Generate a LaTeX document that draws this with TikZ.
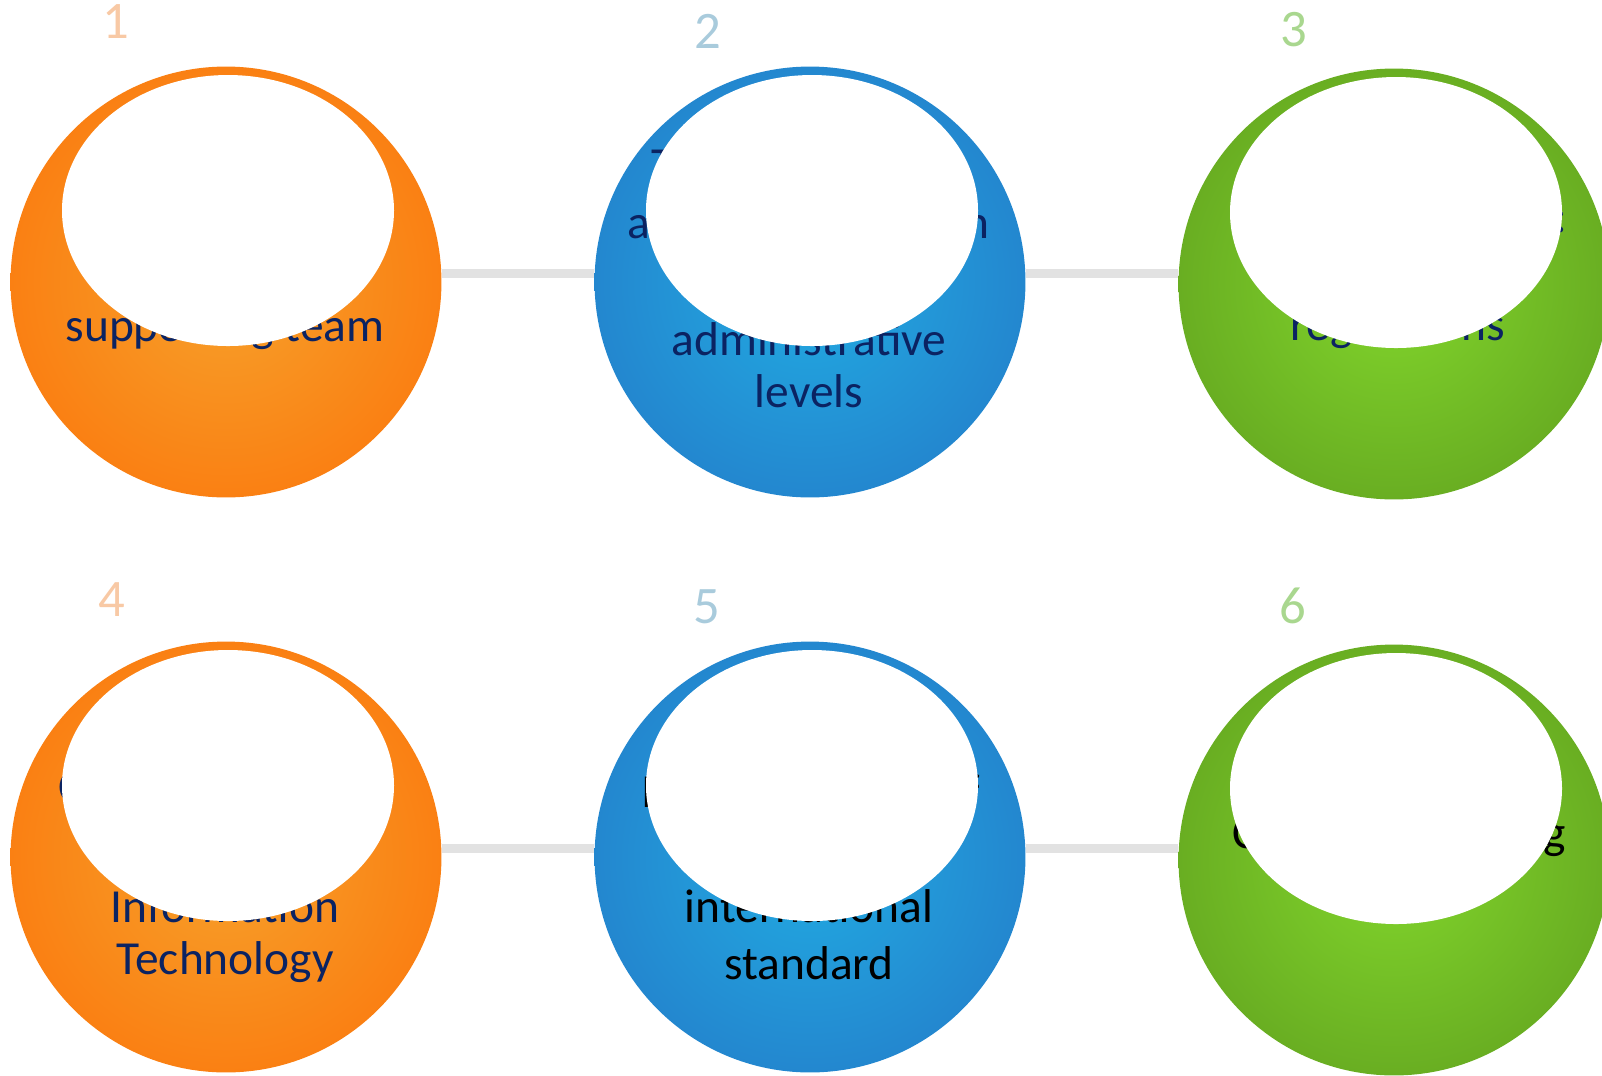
\documentclass[tikz,border=0pt]{standalone}
\usepackage{fontspec}
\setmainfont{Carlito}
\usetikzlibrary{backgrounds}
\definecolor{orangeIn}{HTML}{F7A12B}
\definecolor{orangeOut}{HTML}{FA8013}
\definecolor{blueIn}{HTML}{22ABE2}
\definecolor{blueOut}{HTML}{2387CF}
\definecolor{greenIn}{HTML}{82D62C}
\definecolor{greenOut}{HTML}{69AE22}
\definecolor{navy}{HTML}{0B2362}
\definecolor{linkgray}{HTML}{E2E2E2}
\definecolor{numOrange}{HTML}{F8C9A5}
\definecolor{numBlue}{HTML}{A9CBDC}
\definecolor{numGreen}{HTML}{A9D78F}

\begin{document}
\begin{tikzpicture}[x=0.02cm,y=-0.02cm,
	ball/.style={circle,minimum size=8.62cm,inner sep=0pt},
	txt/.style={font=\fontsize{27}{29.6}\selectfont,text=navy,align=center,inner sep=0pt},
	num/.style={font=\fontsize{30}{36}\selectfont,inner sep=0pt},
	link/.style={draw=linkgray,line width=0.18cm}]
	
			\useasboundingbox (0,0) rectangle (1602,1075);
			
			\node [ball,inner color=orangeIn,outer color=orangeOut] (s1) at (226,282) {};
			\node [txt,anchor=base] (t1) at (225,341) {supporting team};
			\fill [white] ([xshift=0.04cm,yshift=1.43cm]s1.center) ellipse (166 and 135.5);
			\node [num,text=numOrange] (n1) at (116,22) {1};
			
			\node [ball,inner color=blueIn,outer color=blueOut] (s2) at (810,282) {};
			\node [txt,anchor=base west] (t2a) at (651,180) {T};
			\node [txt,anchor=base west] (t2b) at (627,238) {a};
			\node [txt,anchor=base east] (t2c) at (990,238) {n};
			\node [txt,anchor=base] (t2) at (809,407) {administrative\\levels};
			\fill [white] ([xshift=0.04cm,yshift=1.43cm]s2.center) ellipse (166 and 135.5);
			\node [num,text=numBlue] (n2) at (708,31) {2};
			
			\node [ball,inner color=greenIn,outer color=greenOut] (s3) at (1394,284) {};
			\node [txt,anchor=base] (t3a) at (1561,232) {:};
			\node [txt,anchor=base] (t3) at (1398,340) {regulations};
			\fill [white] ([xshift=0.04cm,yshift=1.43cm]s3.center) ellipse (166 and 135.5);
			\node [num,text=numGreen] (n3) at (1294,30) {3};
			
			\node [ball,inner color=orangeIn,outer color=orangeOut] (s4) at (226,857) {};
			\node [txt,anchor=base west] (t4a) at (58,802) {C};
			\node [txt,anchor=base] (t4) at (225,974) {Information\\Technology};
			\fill [white] ([xshift=0.04cm,yshift=1.43cm]s4.center) ellipse (166 and 135.5);
			\node [num,text=numOrange] (n4) at (112,600) {4};
			
			\node [ball,inner color=blueIn,outer color=blueOut] (s5) at (810,857) {};
			\node [txt,text=black,anchor=base west] (t5a) at (641,807) {I};
			\node [txt,text=black,anchor=base east] (t5b) at (980,807) {f};
			\node [txt,text=black,anchor=base] (t5) at (809,979) {international\\[2.3pt]standard};
			\fill [white] ([xshift=0.04cm,yshift=1.43cm]s5.center) ellipse (166 and 135.5);
			\node [num,text=numBlue] (n5) at (707,607) {5};
			
			\node [ball,inner color=greenIn,outer color=greenOut] (s6) at (1394,860) {};
			\node [txt,text=black,anchor=base west] (t6a) at (1232,848) {C};
			\node [txt,text=black,anchor=base east] (t6b) at (1566,848) {g};
			\fill [white] ([xshift=0.04cm,yshift=1.43cm]s6.center) ellipse (166 and 135.5);
			\node [num,text=numGreen] (n6) at (1293,606) {6};
			
			\begin{scope}[on background layer]
				\draw [link] ([yshift=0.17cm]s1.east) -- ([yshift=0.17cm]s2.west);
				\draw [link] ([yshift=0.17cm]s2.east) -- ([yshift=0.17cm]s2.east -| s3.west);
				\draw [link] ([yshift=0.17cm]s4.east) -- ([yshift=0.17cm]s5.west);
				\draw [link] ([yshift=0.17cm]s5.east) -- ([yshift=0.17cm]s5.east -| s6.west);
			\end{scope}
		\end{tikzpicture}
\end{document}
